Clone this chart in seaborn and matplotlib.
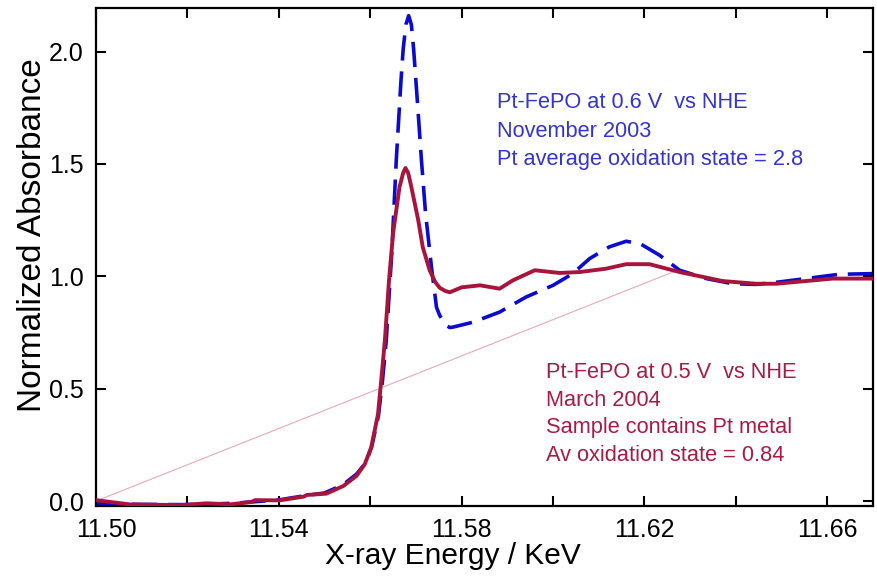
import matplotlib
matplotlib.use("Agg")
import matplotlib.pyplot as plt
import matplotlib.transforms as mtransforms
import seaborn as sns
import pandas as pd

# Pt L3-edge XANES, Pt-FePO at 0.6 V vs NHE (November 2003)
energy_nov = [11.5000, 11.5100, 11.5200, 11.5300, 11.5400, 11.5460, 11.5500,
              11.5540, 11.5570, 11.5590, 11.5603, 11.5618, 11.5627, 11.5635,
              11.5647, 11.5657, 11.5667, 11.5672, 11.5678, 11.5684, 11.5690,
              11.5695, 11.5704, 11.5712, 11.5721, 11.5734, 11.5745, 11.5752,
              11.5764, 11.5774, 11.5781, 11.5825, 11.5883, 11.5941, 11.6000,
              11.6043, 11.6080, 11.6123, 11.6160, 11.6190, 11.6233, 11.6277,
              11.6335, 11.6393, 11.6444, 11.6495, 11.6553, 11.6626, 11.6700]
absorb_nov = [-0.012, -0.015, -0.016, -0.010, 0.005, 0.025, 0.036,
              0.072, 0.120, 0.170, 0.240, 0.380, 0.540, 0.714,
              1.100, 1.518, 1.862, 2.009, 2.120, 2.160, 2.120,
              2.009, 1.754, 1.518, 1.281, 1.040, 0.862, 0.826,
              0.785, 0.772, 0.774, 0.796, 0.841, 0.908, 0.960,
              1.012, 1.079, 1.131, 1.156, 1.146, 1.094, 1.027,
              0.990, 0.967, 0.964, 0.975, 0.990, 1.009, 1.012]

# Pt-FePO at 0.5 V vs NHE (March 2004)
energy_mar = [11.5000, 11.5074, 11.5184, 11.5242, 11.5293, 11.5340, 11.5348,
              11.5402, 11.5455, 11.5461, 11.5504, 11.5541, 11.5570, 11.5588,
              11.5602, 11.5617, 11.5624, 11.5632, 11.5641, 11.5650, 11.5664,
              11.5672, 11.5677, 11.5683, 11.5690, 11.5705, 11.5715, 11.5730,
              11.5742, 11.5752, 11.5764, 11.5774, 11.5800, 11.5840, 11.5883,
              11.5912, 11.5960, 11.6014, 11.6058, 11.6116, 11.6160, 11.6211,
              11.6277, 11.6371, 11.6444, 11.6488, 11.6553, 11.6612, 11.6700]
absorb_mar = [0.004, -0.015, -0.018, -0.010, -0.015, -0.004, 0.004,
              0.003, 0.020, 0.027, 0.033, 0.067, 0.112, 0.164,
              0.238, 0.387, 0.536, 0.714, 0.980, 1.192, 1.397,
              1.460, 1.482, 1.460, 1.397, 1.250, 1.129, 1.027,
              0.975, 0.949, 0.935, 0.929, 0.951, 0.960, 0.945,
              0.982, 1.027, 1.015, 1.019, 1.034, 1.054, 1.054,
              1.019, 0.979, 0.967, 0.967, 0.979, 0.990, 0.990]

# straight reference line drawn under the spectra
ref_energy = [11.5000, 11.6272]
ref_absorb = [0.000, 1.027]

x_major = [11.50, 11.54, 11.58, 11.62, 11.66]
x_minor = [11.52, 11.56, 11.60, 11.64]
y_ticks = [0.0, 0.5, 1.0, 1.5, 2.0]

note_nov = ["Pt-FePO at 0.6 V  vs NHE", "November 2003",
            "Pt average oxidation state = 2.8"]
note_mar = ["Pt-FePO at 0.5 V  vs NHE", "March 2004",
            "Sample contains Pt metal", "Av oxidation state = 0.84"]

blue_line = "#0a0ad2"
blue_text = "#3434d0"
red_line = "#a8143c"
red_text = "#a81c44"

sns.set_theme(style="ticks")
plt.rcParams["font.family"] = ["Liberation Sans", "DejaVu Sans"]

fig = plt.figure(figsize=(8.77, 5.79), dpi=100)
ax = fig.add_axes([96 / 877, 1 - 506 / 579, 777 / 877, 498 / 579])

df_ref = pd.DataFrame({"E": ref_energy, "A": ref_absorb})
df_nov = pd.DataFrame({"E": energy_nov, "A": absorb_nov})
df_mar = pd.DataFrame({"E": energy_mar, "A": absorb_mar})

sns.lineplot(data=df_ref, x="E", y="A", ax=ax, color="#e9a9b6", lw=0.8,
             estimator=None, sort=False, zorder=1)
sns.lineplot(data=df_nov, x="E", y="A", ax=ax, color=blue_line, lw=2.6,
             estimator=None, sort=False, linestyle=(0, (7.0, 3.0)), zorder=2)
sns.lineplot(data=df_mar, x="E", y="A", ax=ax, color=red_line, lw=2.8,
             estimator=None, sort=False, zorder=3)

ax.set_xlim(11.50, 11.67)
ax.set_ylim(-0.022, 2.194)

ax.set_xticks(x_major)
ax.set_xticklabels([f"{v:.2f}" for v in x_major])
ax.set_xticks(x_minor, minor=True)
ax.set_yticks(y_ticks)
ax.set_yticklabels([f"{v:.1f}" for v in y_ticks])

for side in ["left", "right", "top", "bottom"]:
    ax.spines[side].set_visible(True)
    ax.spines[side].set_linewidth(1.6)
    ax.spines[side].set_color("black")

ax.tick_params(axis="both", which="both", direction="in", width=1.5,
               length=7, colors="black", top=True, right=True)
ax.tick_params(axis="x", which="both", labelsize=18, pad=8.5)
ax.tick_params(axis="y", which="both", labelsize=18, pad=9)

# first x label sits a little inside the frame
first = ax.get_xticklabels()[0]
first.set_transform(first.get_transform() +
                    mtransforms.ScaledTranslation(10 / 100, 0, fig.dpi_scale_trans))

ax.set_xlabel("X-ray Energy / KeV", fontsize=21.5, color="black")
ax.set_ylabel("Normalized Absorbance", fontsize=24, color="black")
ax.xaxis.set_label_coords(0.459, -0.072)
ax.yaxis.set_label_coords(-0.062, 0.544)

for line, yv in zip(note_nov, [1.772, 1.643, 1.518]):
    ax.text(11.5877, yv, line, color=blue_text, fontsize=15.7,
            ha="left", va="center")
for line, yv in zip(note_mar, [0.571, 0.446, 0.326, 0.201]):
    ax.text(11.5984, yv, line, color=red_text, fontsize=15.7,
            ha="left", va="center")

ax.grid(False)
fig.savefig("out.png", dpi=100, facecolor="white")
